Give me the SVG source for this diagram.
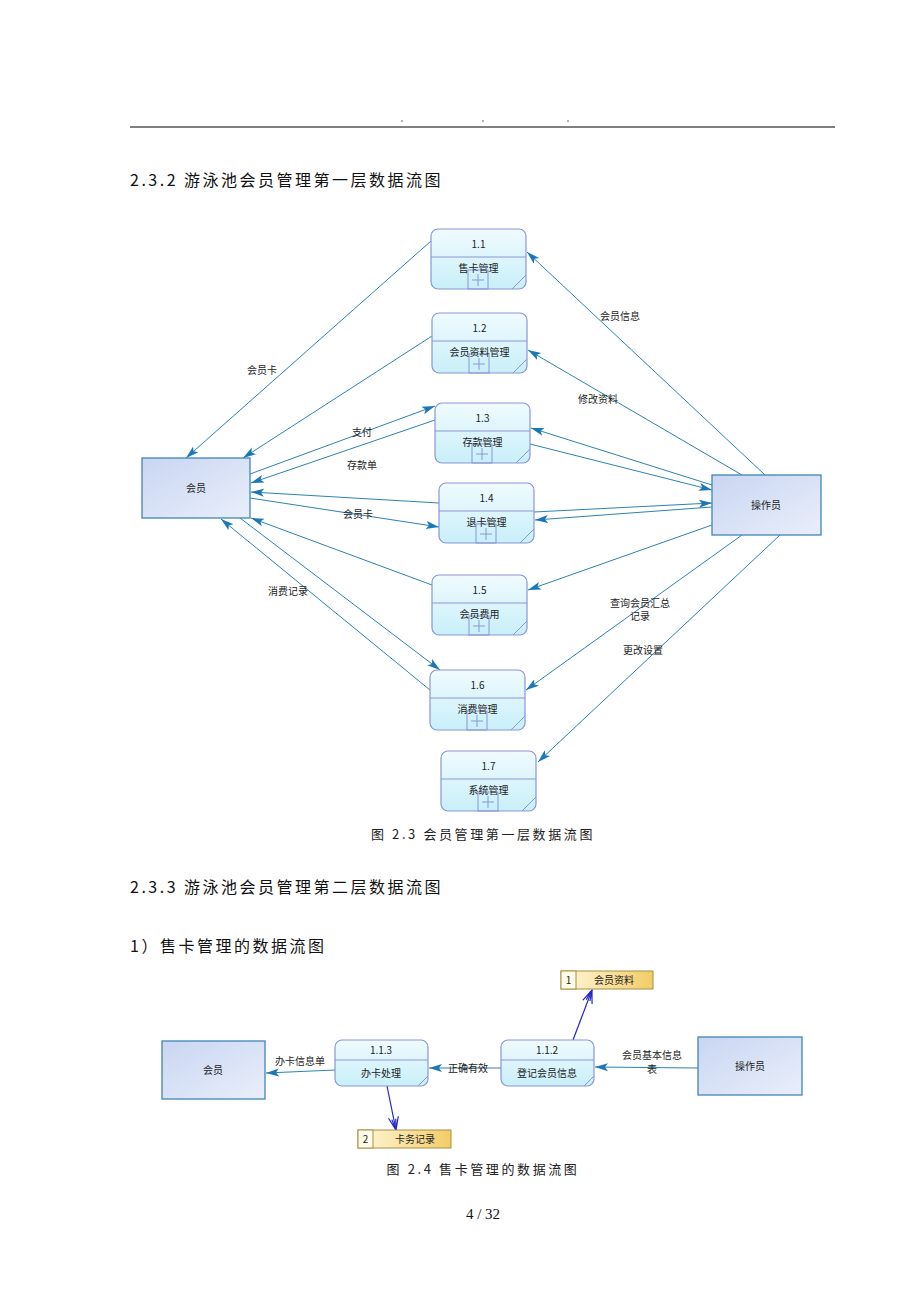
<svg xmlns="http://www.w3.org/2000/svg" width="920" height="1302" viewBox="0 0 920 1302">
<style>
.h{font-family:"Noto Sans CJK SC","Liberation Sans",sans-serif;font-size:16px;fill:#111;letter-spacing:2.5px}
.cap{font-family:"Noto Sans CJK SC","Liberation Sans",sans-serif;font-size:13px;fill:#222;letter-spacing:2.6px}
.t{font-family:"Noto Sans CJK SC","Liberation Sans",sans-serif;font-size:10px;fill:#222;text-anchor:middle}
.pr{fill:url(#gp);stroke:#8a96d8;stroke-width:1.2}
.dv{stroke:#8a96d8;stroke-width:1}
.ex{fill:url(#ge);stroke:#3f86b4;stroke-width:1.3}
.c{stroke:#2e82b2;stroke-width:1;fill:none}
.d{stroke:#2424c8;stroke-width:1.2;fill:none}
.ds{fill:url(#gy);stroke:#a89040;stroke-width:1}
</style>
<defs>
<linearGradient id="gp" x1="0" y1="0" x2="0" y2="1"><stop offset="0" stop-color="#f0fbff"/><stop offset="1" stop-color="#c8eff9"/></linearGradient>
<linearGradient id="ge" x1="0" y1="0" x2="1" y2="1"><stop offset="0" stop-color="#c9d6f2"/><stop offset="1" stop-color="#e9eefa"/></linearGradient>
<linearGradient id="gy" x1="0" y1="0" x2="1" y2="0"><stop offset="0" stop-color="#fff8dc"/><stop offset="1" stop-color="#f2cc66"/></linearGradient>
<marker id="a" markerUnits="userSpaceOnUse" markerWidth="14" markerHeight="10" refX="13" refY="5" orient="auto"><path d="M0,1 L13,5 L0,9 L3,5 z" fill="#1a78b8"/></marker>
<marker id="b" markerUnits="userSpaceOnUse" markerWidth="14" markerHeight="12" refX="13" refY="6" orient="auto"><path d="M0,1 L13,6 L0,11 M2,4 L13,6 L2,8" fill="none" stroke="#2424c8" stroke-width="1.2"/></marker>
<g id="proc">
<rect class="pr" x="0" y="0" width="95" height="60" rx="7"/>
<line class="dv" x1="0" y1="28" x2="95" y2="28"/>
<rect x="37" y="41" width="20" height="19" fill="none" stroke="#8a96d8" stroke-width="1"/>
<path d="M47,45 V57 M41,51 H53" stroke="#8a96d8" stroke-width="1"/>
<line x1="81" y1="60" x2="95" y2="46" stroke="#8a96d8" stroke-width="1"/>
</g>
</defs>
<rect width="920" height="1302" fill="#fff"/>
<g id="header">
<line x1="130" y1="127" x2="835" y2="127" stroke="#000" stroke-width="1.2"/>
<circle cx="402" cy="121" r="0.7" fill="#333"/>
<circle cx="483" cy="121" r="0.7" fill="#333"/>
<circle cx="568" cy="121" r="0.7" fill="#333"/>
<text class="h" x="130" y="186">2.3.2 游泳池会员管理第一层数据流图</text>
</g>
<g id="connectors1">
<line class="c" x1="431" y1="241" x2="186" y2="458" marker-end="url(#a)"/>
<line class="c" x1="765" y1="475" x2="527" y2="252" marker-end="url(#a)"/>
<line class="c" x1="432" y1="336" x2="243" y2="458" marker-end="url(#a)"/>
<line class="c" x1="742" y1="475" x2="528" y2="350" marker-end="url(#a)"/>
<line class="c" x1="250" y1="474" x2="435" y2="406" marker-end="url(#a)"/>
<line class="c" x1="435" y1="420" x2="251" y2="483" marker-end="url(#a)"/>
<line class="c" x1="712" y1="485" x2="531" y2="428" marker-end="url(#a)"/>
<line class="c" x1="530" y1="444" x2="712" y2="490" marker-end="url(#a)"/>
<line class="c" x1="439" y1="503" x2="251" y2="492" marker-end="url(#a)"/>
<line class="c" x1="250" y1="498" x2="439" y2="527" marker-end="url(#a)"/>
<line class="c" x1="712" y1="507" x2="535" y2="520" marker-end="url(#a)"/>
<line class="c" x1="534" y1="512" x2="712" y2="503" marker-end="url(#a)"/>
<line class="c" x1="432" y1="585" x2="251" y2="518" marker-end="url(#a)"/>
<line class="c" x1="712" y1="525" x2="528" y2="590" marker-end="url(#a)"/>
<line class="c" x1="430" y1="690" x2="221" y2="519" marker-end="url(#a)"/>
<line class="c" x1="240" y1="518" x2="440" y2="670" marker-end="url(#a)"/>
<line class="c" x1="742" y1="535" x2="526" y2="690" marker-end="url(#a)"/>
<line class="c" x1="780" y1="535" x2="538" y2="762" marker-end="url(#a)"/>
<text class="t" x="262" y="374">会员卡</text>
<text class="t" x="620" y="320">会员信息</text>
<text class="t" x="598" y="403">修改资料</text>
<text class="t" x="362" y="436">支付</text>
<text class="t" x="362" y="469">存款单</text>
<text class="t" x="358" y="518">会员卡</text>
<text class="t" x="288" y="595">消费记录</text>
<text class="t" x="640" y="607">查询会员汇总</text>
<text class="t" x="640" y="620">记录</text>
<text class="t" x="643" y="654">更改设置</text>
</g>
<g id="member1"><rect class="ex" x="142" y="458" width="108" height="60"/><text class="t" x="196" y="492">会员</text></g>
<g id="operator1"><rect class="ex" x="712" y="475" width="109" height="60"/><text class="t" x="766" y="509">操作员</text></g>
<g id="p1_1" transform="translate(431,229)"><use href="#proc"/><text class="t" x="47.5" y="19">1.1</text><text class="t" x="47.5" y="43">售卡管理</text></g>
<g id="p1_2" transform="translate(432,313)"><use href="#proc"/><text class="t" x="47.5" y="19">1.2</text><text class="t" x="47.5" y="43">会员资料管理</text></g>
<g id="p1_3" transform="translate(435,403)"><use href="#proc"/><text class="t" x="47.5" y="19">1.3</text><text class="t" x="47.5" y="43">存款管理</text></g>
<g id="p1_4" transform="translate(439,483)"><use href="#proc"/><text class="t" x="47.5" y="19">1.4</text><text class="t" x="47.5" y="43">退卡管理</text></g>
<g id="p1_5" transform="translate(432,575)"><use href="#proc"/><text class="t" x="47.5" y="19">1.5</text><text class="t" x="47.5" y="43">会员费用</text></g>
<g id="p1_6" transform="translate(430,670)"><use href="#proc"/><text class="t" x="47.5" y="19">1.6</text><text class="t" x="47.5" y="43">消费管理</text></g>
<g id="p1_7" transform="translate(441,751)"><use href="#proc"/><text class="t" x="47.5" y="19">1.7</text><text class="t" x="47.5" y="43">系统管理</text></g>
<text class="cap" x="483" y="839" text-anchor="middle">图 2.3 会员管理第一层数据流图</text>
<text class="h" x="130" y="893">2.3.3 游泳池会员管理第二层数据流图</text>
<text class="h" x="130" y="952">1）售卡管理的数据流图</text>
<g id="connectors2">
<line class="c" x1="335" y1="1070" x2="266" y2="1073" marker-end="url(#a)"/>
<line class="c" x1="501" y1="1068" x2="429" y2="1068" marker-end="url(#a)"/>
<line class="c" x1="698" y1="1068" x2="595" y2="1067" marker-end="url(#a)"/>
<line class="d" x1="387" y1="1086" x2="396" y2="1130" marker-end="url(#b)"/>
<line class="d" x1="573" y1="1040" x2="592" y2="990" marker-end="url(#b)"/>
<text class="t" x="300" y="1065">办卡信息单</text>
<text class="t" x="468" y="1072">正确有效</text>
<text class="t" x="652" y="1059">会员基本信息</text>
<text class="t" x="652" y="1073">表</text>
</g>
<g id="member2"><rect class="ex" x="162" y="1041" width="103" height="58"/><text class="t" x="213" y="1074">会员</text></g>
<g id="operator2"><rect class="ex" x="698" y="1037" width="104" height="58"/><text class="t" x="750" y="1070">操作员</text></g>
<g id="p1_1_3"><rect class="pr" x="335" y="1040" width="93" height="46" rx="7"/><line class="dv" x1="335" y1="1060" x2="428" y2="1060"/><line x1="418" y1="1086" x2="428" y2="1076" stroke="#8a96d8"/><text class="t" x="381" y="1054">1.1.3</text><text class="t" x="381" y="1077">办卡处理</text></g>
<g id="p1_1_2"><rect class="pr" x="501" y="1040" width="93" height="46" rx="7"/><line class="dv" x1="501" y1="1060" x2="594" y2="1060"/><line x1="584" y1="1086" x2="594" y2="1076" stroke="#8a96d8"/><text class="t" x="547" y="1054">1.1.2</text><text class="t" x="547" y="1077">登记会员信息</text></g>
<g id="store1"><rect class="ds" x="561" y="971" width="92" height="18"/><rect x="561" y="971" width="15" height="18" fill="#fffbe8" stroke="#a89040"/><text class="t" x="568.5" y="984">1</text><text class="t" x="614" y="984">会员资料</text></g>
<g id="store2"><rect class="ds" x="358" y="1130" width="93" height="18"/><rect x="358" y="1130" width="15" height="18" fill="#fffbe8" stroke="#a89040"/><text class="t" x="365.5" y="1143">2</text><text class="t" x="415" y="1143">卡务记录</text></g>
<text class="cap" x="483" y="1174" text-anchor="middle">图 2.4 售卡管理的数据流图</text>
<text x="483" y="1219" text-anchor="middle" font-family="Liberation Serif, serif" font-size="15" fill="#111">4 / 32</text>
</svg>
